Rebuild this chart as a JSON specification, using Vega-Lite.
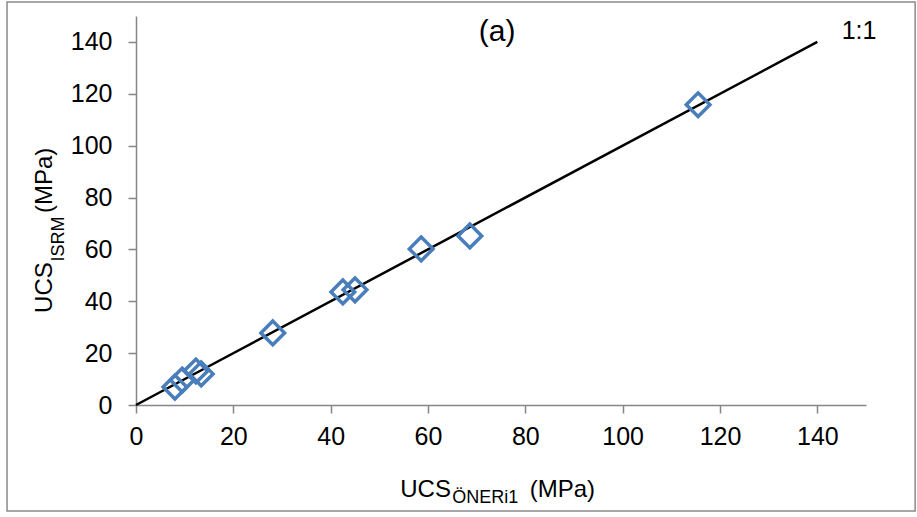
{
  "$schema": "https://vega.github.io/schema/vega-lite/v6.json",
  "width": 730,
  "height": 389,
  "autosize": {"type": "none"},
  "padding": {"left": 136, "top": 16, "right": 51, "bottom": 112},
  "background": "white",
  "config": {
    "view": {"stroke": null},
    "font": "Liberation Sans",
    "text": {"font": "Liberation Sans", "color": "#000000"}
  },
  "encoding": {
    "x": {
      "type": "quantitative",
      "scale": {"domain": [0, 150], "nice": false, "zero": false},
      "axis": {
        "title": null, "values": [0, 20, 40, 60, 80, 100, 120, 140],
        "domainColor": "#868686", "domainWidth": 1.5,
        "tickColor": "#868686", "tickSize": 8, "tickWidth": 1.5,
        "labelFont": "Liberation Sans", "labelFontSize": 25, "labelColor": "#000000",
        "labelPadding": 11, "grid": false, "labelFlush": false
      }
    },
    "y": {
      "type": "quantitative",
      "scale": {"domain": [0, 150], "nice": false, "zero": false},
      "axis": {
        "title": null, "values": [0, 20, 40, 60, 80, 100, 120, 140],
        "domainColor": "#868686", "domainWidth": 1.5,
        "tickColor": "#868686", "tickSize": 8, "tickWidth": 1.5,
        "labelFont": "Liberation Sans", "labelFontSize": 25, "labelColor": "#000000",
        "labelPadding": 16, "grid": false, "labelFlush": false
      }
    }
  },
  "layer": [
    {
      "data": {"values": [{}]},
      "mark": {"type": "rect", "fill": null, "stroke": "#8a8a8a", "strokeWidth": 1.5, "clip": false},
      "encoding": {
        "x": {"datum": -26.5, "type": "quantitative"},
        "x2": {"datum": 160.1},
        "y": {"datum": 155.4, "type": "quantitative"},
        "y2": {"datum": -40.9}
      }
    },
    {
      "data": {"values": [{"x": 0, "y": 0}, {"x": 140, "y": 140}]},
      "mark": {"type": "line", "color": "#000000", "strokeWidth": 2.5},
      "encoding": {
        "x": {"field": "x", "type": "quantitative"},
        "y": {"field": "y", "type": "quantitative"}
      }
    },
    {
      "data": {"values": [
        {"x": 8.0, "y": 6.9},
        {"x": 9.5, "y": 9.6},
        {"x": 12.3, "y": 13.1},
        {"x": 13.4, "y": 12.0},
        {"x": 28.1, "y": 27.8},
        {"x": 42.5, "y": 43.6},
        {"x": 45.0, "y": 44.4},
        {"x": 58.6, "y": 60.2},
        {"x": 68.6, "y": 65.2},
        {"x": 115.5, "y": 115.8}
      ]},
      "mark": {"type": "point", "shape": "diamond", "filled": false, "stroke": "#4a7ebb", "strokeWidth": 3.5, "size": 560, "opacity": 1},
      "encoding": {
        "x": {"field": "x", "type": "quantitative"},
        "y": {"field": "y", "type": "quantitative"}
      }
    },
    {
      "data": {"values": [{}]},
      "mark": {"type": "text", "text": "(a)", "fontSize": 30, "align": "center", "baseline": "alphabetic"},
      "encoding": {
        "x": {"datum": 74.2, "type": "quantitative"},
        "y": {"datum": 140.5, "type": "quantitative"}
      }
    },
    {
      "data": {"values": [{}]},
      "mark": {"type": "text", "text": "1:1", "fontSize": 25, "align": "left", "baseline": "alphabetic"},
      "encoding": {
        "x": {"datum": 145.0, "type": "quantitative"},
        "y": {"datum": 141.0, "type": "quantitative"}
      }
    },
    {
      "data": {"values": [{}]},
      "mark": {"type": "text", "text": "UCS", "fontSize": 24, "align": "left", "baseline": "alphabetic"},
      "encoding": {
        "x": {"datum": 54.3, "type": "quantitative"},
        "y": {"datum": -35.5, "type": "quantitative"}
      }
    },
    {
      "data": {"values": [{}]},
      "mark": {"type": "text", "text": "ÖNERi1", "fontSize": 18, "align": "left", "baseline": "alphabetic"},
      "encoding": {
        "x": {"datum": 65.0, "type": "quantitative"},
        "y": {"datum": -37.8, "type": "quantitative"}
      }
    },
    {
      "data": {"values": [{}]},
      "mark": {"type": "text", "text": "(MPa)", "fontSize": 24, "align": "left", "baseline": "alphabetic"},
      "encoding": {
        "x": {"datum": 80.9, "type": "quantitative"},
        "y": {"datum": -35.5, "type": "quantitative"}
      }
    },
    {
      "data": {"values": [{}]},
      "mark": {"type": "text", "text": "UCS", "fontSize": 24, "angle": -90, "align": "left", "baseline": "alphabetic"},
      "encoding": {
        "x": {"datum": -17.26, "type": "quantitative"},
        "y": {"datum": 35.5, "type": "quantitative"}
      }
    },
    {
      "data": {"values": [{}]},
      "mark": {"type": "text", "text": "ISRM", "fontSize": 18, "angle": -90, "align": "left", "baseline": "alphabetic"},
      "encoding": {
        "x": {"datum": -14.79, "type": "quantitative"},
        "y": {"datum": 55.3, "type": "quantitative"}
      }
    },
    {
      "data": {"values": [{}]},
      "mark": {"type": "text", "text": "(MPa)", "fontSize": 24, "angle": -90, "align": "left", "baseline": "alphabetic"},
      "encoding": {
        "x": {"datum": -17.26, "type": "quantitative"},
        "y": {"datum": 74.0, "type": "quantitative"}
      }
    }
  ]
}
